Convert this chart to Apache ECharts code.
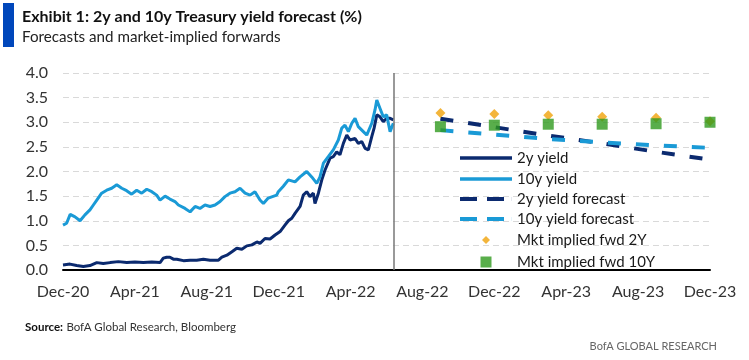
<!DOCTYPE html>
<html>
<head>
<meta charset="utf-8">
<script src="https://cdn.jsdelivr.net/npm/echarts@6/dist/echarts.min.js"></script>
<style>
html,body{margin:0;padding:0;background:#fff;}
#chart{width:749px;height:360px;}
</style>
</head>
<body>
<div id="chart"></div>
<script>
// x values are months since Dec-2020
const tickLabels = ['Dec-20','Apr-21','Aug-21','Dec-21','Apr-22','Aug-22','Dec-22','Apr-23','Aug-23','Dec-23'];

const months2y = [0.0,0.39,0.76,1.13,1.5,1.88,2.24,2.62,3.08,3.55,4.0,4.47,4.94,5.4,5.58,5.77,5.95,6.14,6.33,6.7,7.07,7.44,7.81,8.18,8.65,8.84,9.12,9.4,9.67,9.95,10.23,10.51,10.79,10.96,11.24,11.52,11.8,12.08,12.35,12.54,12.73,12.91,13.19,13.37,13.56,13.74,13.93,14.02,14.21,14.4,14.58,14.86,15.04,15.23,15.41,15.6,15.79,15.97,16.25,16.43,16.62,16.81,16.99,17.18,17.31,17.46,17.64,17.82,18.01,18.2,18.38];
const yield2y = [0.10,0.12,0.09,0.07,0.09,0.15,0.13,0.15,0.17,0.15,0.16,0.15,0.16,0.15,0.24,0.26,0.26,0.22,0.22,0.19,0.20,0.20,0.22,0.20,0.20,0.26,0.30,0.37,0.44,0.42,0.49,0.51,0.57,0.54,0.64,0.63,0.71,0.78,0.91,1.00,1.05,1.15,1.29,1.52,1.59,1.49,1.56,1.35,1.56,1.83,2.03,2.27,2.30,2.40,2.34,2.57,2.74,2.64,2.67,2.57,2.61,2.47,2.44,2.71,2.88,3.15,3.11,3.01,3.08,3.08,3.05];

const months10y = [0.0,0.2,0.4,0.67,0.95,1.22,1.5,1.69,1.88,2.15,2.43,2.71,2.99,3.27,3.54,3.82,4.1,4.38,4.66,4.94,5.21,5.4,5.68,5.95,6.23,6.42,6.51,6.79,7.07,7.35,7.62,7.9,8.18,8.46,8.74,9.01,9.29,9.57,9.85,10.13,10.41,10.68,10.96,11.15,11.42,11.52,11.89,11.98,12.26,12.54,12.63,12.91,13.19,13.56,13.84,14.12,14.3,14.49,14.76,15.04,15.32,15.51,15.69,15.88,16.07,16.25,16.43,16.71,16.9,17.18,17.36,17.46,17.64,17.82,18.01,18.2,18.38];
const yield10y = [0.91,0.95,1.13,1.08,1.00,1.12,1.22,1.32,1.42,1.56,1.62,1.66,1.73,1.66,1.61,1.54,1.62,1.56,1.64,1.59,1.52,1.42,1.50,1.44,1.39,1.32,1.29,1.25,1.18,1.29,1.25,1.32,1.29,1.32,1.39,1.49,1.56,1.59,1.66,1.56,1.52,1.59,1.42,1.35,1.46,1.45,1.52,1.59,1.70,1.83,1.83,1.79,1.89,2.00,1.89,1.76,1.89,2.17,2.30,2.44,2.64,2.88,2.94,2.81,2.98,3.08,2.91,2.81,2.74,2.98,3.25,3.45,3.28,3.11,3.15,2.81,2.98];

const forecastMonths = [21,24,27,30,33,36];
const forecast2y = [3.07,2.90,2.73,2.57,2.40,2.24];
const forecast10y = [2.84,2.75,2.66,2.59,2.53,2.48];
const fwd2y = [3.19,3.17,3.14,3.11,3.09,3.02];
const fwd10y = [2.91,2.94,2.96,2.96,2.97,3.00];

const lastHistoryMonth = 18.4;

const seriesNames = ['2y yield','10y yield','2y yield forecast','10y yield forecast','Mkt implied fwd 2Y','Mkt implied fwd 10Y'];

const NAVY = '#0b2a6f';
const LIGHT = '#1a9ad6';
const ORANGE = '#f0a30a';
const GREEN = '#2f9a1e';
const FONT = 'Lato';

function pairs(xs, ys){ return xs.map((x,i)=>[x, ys[i]]); }

const chart = echarts.init(document.getElementById('chart'), null, {renderer:'canvas'});

const SOLID_ICON = 'path://M0,0h52v3.5h-52z';
const DASH_ICON = 'path://M0,0h17v4h-17z M27,0h17v4h-17z M51.9,0h0.1v4h-0.1z';
const legendSpec = [
  {top:150, left:460, w:52, h:14, icon:SOLID_ICON, pad:0},
  {top:171, left:460, w:52, h:14, icon:SOLID_ICON, pad:0},
  {top:191, left:460, w:52, h:14, icon:DASH_ICON, pad:0},
  {top:211, left:460, w:52, h:14, icon:DASH_ICON, pad:0},
  {top:232, left:482, w:8, h:8, icon:'diamond', pad:22},
  {top:254, left:480.5, w:11, h:11, icon:'rect', pad:20.5}
];
const legends = seriesNames.map((n,i)=>{
  const s = legendSpec[i];
  return {
    data:[{name:n, icon:s.icon}], left:s.left, top:s.top, orient:'vertical', padding:0,
    itemWidth:s.w, itemHeight:s.h, selectedMode:false, symbolKeepAspect:true,
    textStyle:{fontFamily:FONT, fontSize:15, color:'#1a1a1a', lineHeight:16, padding:[0,0,0,s.pad]}
  };
});

const option = {
  animation:false,
  backgroundColor:'#fff',
  textStyle:{fontFamily:FONT},
  title:[
    {text:'Exhibit 1: 2y and 10y Treasury yield forecast (%)', left:22, top:9, padding:0,
     textStyle:{fontFamily:FONT, fontSize:16, fontWeight:'bold', color:'#111'}},
    {text:'Forecasts and market-implied forwards', left:22, top:30, padding:0,
     textStyle:{fontFamily:FONT, fontSize:15.2, fontWeight:'normal', color:'#222'}},
    {text:'BofA GLOBAL RESEARCH', right:32, top:341, padding:0,
     textStyle:{fontFamily:FONT, fontSize:11, fontWeight:'normal', color:'#666'}}
  ],
  graphic:[
    {type:'rect', left:3, top:3, shape:{width:11, height:44}, style:{fill:'#0047bb'}},
    {type:'text', left:25, top:321, style:{
      text:'{b|Source:} {n|BofA Global Research, Bloomberg}',
      rich:{
        b:{fontFamily:FONT, fontSize:11.5, fontWeight:'bold', fill:'#111'},
        n:{fontFamily:FONT, fontSize:11.5, fontWeight:'normal', fill:'#333'}
      }
    }}
  ],
  legend: legends,
  grid:{left:63, right:39, top:73, bottom:90},
  xAxis:{
    type:'value', min:0, max:36, interval:4,
    axisLine:{show:true, onZero:false, lineStyle:{color:'#000', width:2}},
    axisTick:{show:false},
    splitLine:{show:false},
    axisLabel:{fontFamily:FONT, fontSize:16, color:'#333', margin:14,
      formatter:(v)=>tickLabels[Math.round(v/4)] || ''}
  },
  yAxis:{
    type:'value', min:0, max:4, interval:0.5,
    axisLine:{show:false}, axisTick:{show:false},
    splitLine:{show:true, lineStyle:{color:'#d9d9d9', type:[6,4], width:1}},
    axisLabel:{fontFamily:FONT, fontSize:16, color:'#333', margin:15, formatter:(v)=>v.toFixed(1)}
  },
  series:[
    {name:seriesNames[0], type:'line', data:pairs(months2y, yield2y), symbol:'none',
     lineStyle:{color:NAVY, width:3}, itemStyle:{color:NAVY}, z:3,
     markLine:{silent:true, symbol:'none', label:{show:false},
       lineStyle:{color:'#777', type:'solid', width:1.5},
       data:[{xAxis:lastHistoryMonth}]}},
    {name:seriesNames[1], type:'line', data:pairs(months10y, yield10y), symbol:'none',
     lineStyle:{color:LIGHT, width:3}, itemStyle:{color:LIGHT}, z:4},
    {name:seriesNames[2], type:'line', data:pairs(forecastMonths, forecast2y), symbol:'none',
     lineStyle:{color:NAVY, width:4, type:[13,15]}, itemStyle:{color:NAVY}, z:5},
    {name:seriesNames[3], type:'line', data:pairs(forecastMonths, forecast10y), symbol:'none',
     lineStyle:{color:LIGHT, width:4, type:[13,15]}, itemStyle:{color:LIGHT}, z:5},
    {name:seriesNames[4], type:'scatter', data:pairs(forecastMonths, fwd2y), symbol:'diamond',
     symbolSize:[10,10], itemStyle:{color:ORANGE}, z:6},
    {name:seriesNames[5], type:'scatter', data:pairs(forecastMonths, fwd10y), symbol:'rect',
     symbolSize:11, itemStyle:{color:GREEN}, z:7}
  ]
};
chart.setOption(option);
</script>
</body>
</html>
